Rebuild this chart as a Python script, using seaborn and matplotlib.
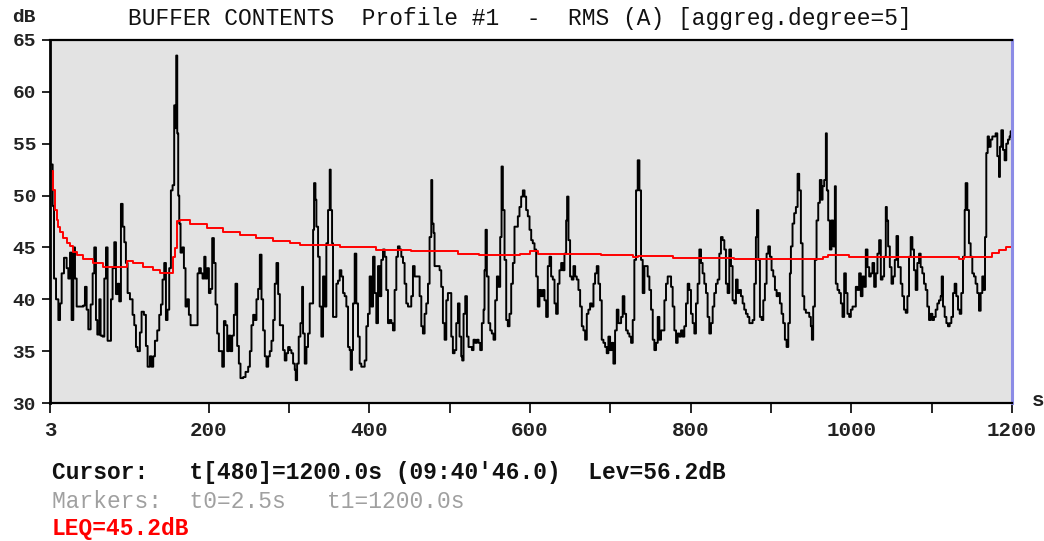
import numpy as np
import pandas as pd
import matplotlib
matplotlib.use('Agg')
import matplotlib.pyplot as plt
import seaborn as sns

# RMS level (time in s, level in dB)
t_rms = [2.5, 5.8, 7.5, 10, 12.9, 15, 17, 19.9, 23.2, 25.3, 27.4, 29.4, 31.5, 33.6, 35.7, 39.8, 44, 46, 48.1, 50.2,
         53.1, 55.6, 57.6, 59.7, 61.4, 63.9, 65.5, 68, 70.1, 72.2, 74.2, 76.3, 78.4, 80.4, 82.5, 84.6, 86.7, 88.7, 90.8, 92.9,
         95, 97, 99.1, 102, 105.3, 107.4, 109.5, 111.5, 114.4, 116.5, 119.4, 121.9, 124, 126.9, 128.9, 131, 133.1, 136, 138.5, 140.6,
         142.6, 144.7, 146.8, 148.8, 150.9, 153, 155.1, 157.1, 158.4, 159.6, 160.9, 162.1, 163.4, 165, 167.1, 169.2, 171.2, 173.3, 175.4, 177.5,
         180.8, 185, 186.2, 188.2, 190.3, 192.4, 194.5, 196.1, 198.2, 200.3, 202.3, 204.4, 206.5, 208.6, 210.6, 212.7, 214.8, 216.9, 219, 221,
         223.1, 225.1, 227.2, 229.3, 231.4, 233.4, 235.5, 237.6, 239.6, 243, 245.9, 249.2, 251.3, 253.3, 255.4, 257.5, 259.5, 261.6, 263.7, 265.8,
         267.8, 269.9, 272, 274.1, 276.1, 278.2, 280.3, 282.3, 284.4, 286.5, 288.6,
         292.6, 294.7, 296.8, 298.9, 301, 303, 305.1, 307.2, 308.4, 310.1, 312.1, 314.2, 316.3, 317.5, 319.6, 321.7, 323.7, 325.8, 327.9, 330,
         331.2, 332.9, 334.1, 336.2, 338.2, 340.3, 342.4, 344.5, 346.5, 348.6, 350.7, 351.9, 353.6, 354.8, 356.9, 359, 361, 363.1, 365.2, 367.3,
         369.3, 371.4, 373.5, 375.5, 376.8, 378.4, 379.7, 381.8, 383.8, 385.9, 388, 390, 392.1, 394.2, 396.3, 398.3, 400.4, 402.5, 404.6, 406.6,
         408.7, 410.8, 412.9, 414.9, 417, 419.1, 421.1, 423.2, 425.3, 427.4, 429.4, 431.5, 433.6, 435.6, 437.7, 439.8, 441.9, 443.9, 446, 448.1,
         450.2, 452.2, 454.3, 456.4, 458.4, 460.5, 462.6, 464.7, 466.7, 468.8, 470.9, 473, 475, 477.1, 478.3, 480, 481.2, 483.3, 485.4, 487.5,
         489.5, 491.6, 493.7, 495.8, 497.8,
         499.9, 502, 504, 506.1, 508.2, 510.3, 512.3, 514.4, 515.6, 517.3, 519.4, 521.5, 523.5, 525.6, 527.7, 529.7, 531.8, 533.9, 536, 538,
         540.1, 542.2, 543.4, 544.7, 546.3, 548.4, 550.5, 552.5, 554.6, 556.7, 558.8, 560.8, 562.9, 564.6, 566.2, 568.3, 570.4, 572.4, 574.5, 576.6,
         578.7, 580.7, 582.8, 584.9, 586.9, 589, 591.1, 593.2, 595.2, 597.3, 599.4, 601.5, 603.5, 605.6, 607.7, 609.7, 611.8, 613.9, 616, 618,
         620.1, 622.2, 624.3, 626.3, 628.4, 630.5, 632.5, 634.6, 636.7, 638.8, 640.8, 642.9, 645, 646.2, 647.9, 649.9, 652, 654.1, 656.2, 658.2,
         660.3, 662.4, 664.5, 666.5, 668.6, 670.7, 672.7, 674.8, 676.9, 679, 681, 683.1, 685.2, 687.2, 689.3, 691.4, 693.5, 695.5, 697.6, 699.7,
         701.8, 703.8, 705.9, 708, 710.1,
         711.3, 713.4, 715.4, 717.5, 719.6, 721.7, 723.7, 725.8, 727.9, 729.9, 732, 734.1, 736.2, 738.2, 740.3, 742.4, 744.5, 746.5, 748.6, 750.7,
         752.8, 754.8, 756.9, 759, 761, 763.1, 765.2, 767.3, 769.3, 771.4, 773.5, 775.6, 777.6, 779.7, 781.8, 783.8, 785.9, 788, 790.1, 792.1,
         794.2, 796.3, 798.3, 800.4, 802.5, 804.6, 806.6, 808.7, 810.8, 812.9, 814.9, 817, 819.1, 821.1, 823.2, 825.3, 827.4, 829.4, 831.5, 833.6,
         835.7, 837.7, 839.8, 841.9, 843.9, 846, 848.1, 850.2, 852.2, 854.3, 856.4, 858.5, 860.5, 862.6, 864.7, 866.7, 868.8, 870.9, 873, 875,
         877.1, 879.2, 881.2, 882.5, 884.2, 886.2, 888.3, 890.4, 892.4, 894.5, 896.6, 898.7, 900.7, 902.8, 904.9, 907, 909, 911.1, 913.2, 915.2,
         917.3, 919.4, 921.5,
         923.5, 924.8, 926.8, 928.9, 931, 933.1, 935.1, 937.2, 939.3, 941.4, 943.4, 945.5, 947.6, 949.6, 950.9, 952.5, 954.6, 956.7, 958.8, 960.8,
         962.9, 964.2, 966.2, 968.3, 969.5, 971.2, 973.3, 975.3, 977.4, 979.5, 980.7, 982.8, 984.9, 987, 989, 991.1, 993.2, 995.2, 997.3, 999.4,
         1001.5, 1003.5, 1005.6, 1007.7, 1009.7, 1011.8, 1013.9, 1016, 1018, 1020.1, 1022.2, 1024.3, 1026.3, 1028.4, 1030.5, 1032.5, 1034.6, 1036.7, 1038.8, 1040.8,
         1042.9, 1044.2, 1045.8, 1047.9, 1050, 1052, 1054.1, 1056.2, 1058.2,
         1061.5, 1063.5, 1065.6, 1067.7, 1069.8, 1071.8, 1073.9, 1076, 1078, 1080.1, 1082.2, 1084.3, 1086.3, 1088.4, 1090.5, 1092.6, 1094.6, 1096.7, 1098.8, 1100.9,
         1102.9, 1105, 1107.1, 1109.1, 1111.2, 1112.5, 1114.1, 1116.2, 1118.3, 1120.3, 1122.4, 1124.5, 1126.6, 1128.6, 1130.7, 1132.8, 1134.9, 1136.9, 1139, 1141.1,
         1142.3, 1144.4, 1146.4, 1148.5, 1150.6, 1152.7, 1154.7, 1156.8, 1158.9, 1161, 1163, 1165.1, 1166.4, 1168, 1169.7, 1171.3, 1173.4, 1175.5, 1177.5, 1179.6,
         1181.7, 1183.8, 1185, 1186.7, 1188.8, 1190.8, 1192.9, 1195, 1197, 1198.3, 1200]

lev_rms = [53, 49, 42, 40, 38, 39.6, 42.5, 44, 43, 42, 44.5, 38, 45, 42, 39.3, 39.3, 39.4, 41.2, 39, 37.1,
           39.5, 42.5, 45, 38, 36.6, 40, 36.5, 36.4, 42, 45, 36, 36, 40, 43, 45.5, 40.5, 41.5, 39.8, 49.2, 47,
           45.5, 43.5, 40.6, 40, 38.5, 37.5, 35.4, 35, 36.8, 38.8, 38.5, 35.5, 33.5, 34.5, 33.5, 34.5, 36, 37, 38.5, 39.5,
           41.9, 43.5, 38, 39, 43, 50.5, 51, 58.7, 56.5, 63.5, 56, 50, 47.3, 44.5, 45, 43, 39.3, 40, 38.5, 37.5,
           37.5, 37.5, 42.5, 43, 42.5, 42, 44.1, 42, 43, 40.6, 41, 45.9, 43.5, 39.5, 36.7, 35, 35, 33.5, 37.9, 37.5,
           35, 36.5, 35, 36.5, 38.5, 41.5, 35.5, 33.8, 32.4, 32.5, 33, 33.5, 35, 37.5, 38.5, 38, 40, 41, 44.3, 40,
           37, 34.5, 33.5, 34.5, 35, 36, 38, 41.5, 43.5, 40.5, 37.5,
           35.1, 34.1, 34.8, 35.4, 35.1, 34.8, 33.8, 33.2, 32.2, 33.8, 36.4, 37.7, 41.2, 36.7, 33.8, 35.4, 36.7, 39.6, 39.6, 46.7,
           51.2, 49.6, 47, 44.1, 39.3, 36.4, 42.2, 39.3, 45.4, 48.6, 52.5, 48.6, 45.4, 38.3, 38.3, 41.5, 41.8, 42.8, 42.2, 40.6,
           40.3, 39.3, 35.4, 35.1, 33.2, 35.1, 39.6, 44.4, 39.6, 36.4, 33.8, 33.5, 33.5, 34.1, 37.4, 38.6, 42.2, 39.3, 44.1, 40.6,
           37.7, 43.2, 40.3, 43.8, 44.8, 44.1, 40.9, 37.7, 38, 37.7, 37, 40.9, 44.1, 45.1, 44.8, 44.1, 43.5, 41.5, 39.6, 39.3,
           39.3, 40.3, 43.2, 42.2, 42.2, 42.2, 40.3, 37.4, 36.7, 38.6, 39.6, 41.5, 46, 51.5, 47.3, 46.4, 43.2, 43.2, 43.2, 42.8,
           41.2, 37.7, 36.1, 39.9, 40.6,
           40.6, 36.4, 34.8, 35.1, 37.7, 39.6, 36.4, 34.5, 34.1, 38.6, 40.3, 36.4, 35.4, 35.4, 35.1, 36.1, 35.8, 36.1, 35.8, 35.1,
           37.7, 39, 42.8, 46.7, 42.2, 37.7, 37, 36.7, 36.1, 39.9, 42.2, 41.2, 46, 52.8, 48.6, 43.8, 38, 37.4, 38.6, 41.5,
           43.5, 47, 47, 48, 48.9, 49.9, 50.5, 49.9, 48.6, 48, 46.7, 45.7, 45.4, 44.8, 42.2, 39.3, 40.9, 40.3, 40.9, 39.9,
           38.3, 43.2, 44.1, 42.2, 41.9, 39.6, 38.6, 41.5, 42.8, 43.5, 42.8, 44.4, 47.6, 49.9, 45.7, 42.2, 41.9, 43.2, 42.2, 41.9,
           40.9, 39.3, 37.4, 37, 36.1, 38.6, 39, 39.6, 39.3, 41.5, 42.5, 43.2, 41.5, 39.9, 36.1, 35.8, 35.4, 34.8, 36.4, 35.1,
           35.8, 33.8, 37, 39, 37.7,
           37.7, 38.3, 40.3, 38.6, 37, 36.7, 36.4, 35.8, 38, 43.8, 50.5, 53.4, 50.5, 43.8, 40.6, 43.2, 43.2, 42.2, 40.9, 39,
           36.1, 35.1, 35.8, 38.3, 36.1, 37, 37, 39.9, 41.5, 42.2, 42.2, 41.2, 39.3, 37, 35.8, 36.7, 36.4, 37, 36.4, 37.4,
           39.6, 41.5, 40.9, 38.6, 37.7, 36.7, 39.6, 41.5, 44.8, 43.5, 42.5, 41.5, 40.6, 38.3, 36.7, 37.7, 39.3, 40.6, 41.5, 41.9,
           44.4, 46, 45.7, 44.8, 41.5, 40.6, 44.8, 43.2, 39.9, 39.6, 41.9, 40.6, 40.9, 40.3, 39.6, 39, 38.6, 38.3, 37.7, 37.7,
           38, 41.5, 46, 48.6, 43.8, 38.3, 38, 39.9, 41.5, 44.4, 45.1, 44.1, 42.8, 42.2, 40.9, 40.3, 40.6, 39.6, 38.6, 37.7,
           36.1, 35.4, 37.7,
           42.5, 45.1, 47.3, 48.3, 48.9, 52.1, 50.5, 45.4, 40.3, 39, 38.7, 38.7, 38.3, 37.4, 36.1, 39.3, 43.8, 47.6, 49.3, 51.5,
           49.6, 50.9, 51.5, 56, 50.5, 47.6, 44.8, 47.6, 45.1, 50.9, 41.5, 40.9, 40.6, 39.6, 38.3, 42.5, 40.6, 38.6, 38.3, 39,
           39.3, 39.3, 41.2, 40.9, 42.5, 40.3, 42.2, 41.2, 44.8, 43.1, 42.2, 42.5, 43.5, 41.2, 42.5, 44.4, 45.7, 41.9, 42.2, 44.1,
           48.9, 47.6, 45.1, 43.1, 41.5, 42.2, 43.8, 46.1, 43.1,
           41.5, 40.3, 39, 38.7, 40.3, 44.1, 46, 44.8, 42.8, 40.9, 43.5, 44.4, 43.1, 42.5, 41.5, 40.9, 39.3, 38, 38.6, 38,
           38.3, 39, 39.6, 39.9, 40.3, 42.2, 39.3, 38.3, 37.7, 37.4, 37.7, 38.3, 40.6, 41.5, 40.3, 39, 38.6, 40.6, 44.1, 48.6,
           51.2, 48.6, 45.4, 44.1, 42.5, 42.2, 41.5, 40.6, 38.9, 40.6, 42.2, 40.9, 46, 54.1, 55.7, 54.7, 55.4, 55.7, 55.7, 56,
           53.8, 51.8, 54.7, 56.3, 54.4, 53.4, 55, 55.4, 55.7, 56.2, 56.2]

# running LEQ (red trace)
t_leq = [2.5, 6.6, 8.7, 10.8, 12.9, 15, 19.1, 23.2, 27.4, 31.5, 35.7, 44, 56.4, 68.8, 97.9, 106.2, 118.6, 131, 139.3, 155.9,
         158, 160, 164.2, 176.6, 197.4, 218.1, 238.8, 259.5, 280.3, 301, 313.4, 363, 408.7, 452.2, 510, 537, 587, 599.4, 609.7, 688.5,
         727.9, 734, 777.6, 854.3, 964.2, 970.4, 997.3, 1132, 1134, 1140, 1167, 1175.5, 1183.8, 1192, 1200]
lev_leq = [52.4, 50.5, 48.6, 47.6, 47, 46.5, 45.9, 45.4, 45.1, 44.6, 44.3, 43.9, 43.5, 43.1, 43.7, 43.5, 43.1, 42.8, 42.5, 44.1,
           44.9, 47.5, 47.6, 47.3, 46.9, 46.5, 46.2, 45.9, 45.6, 45.4, 45.2, 45, 44.8, 44.7, 44.4, 44.3, 44.4, 44.7, 44.4, 44.3,
           44.05, 44.2, 44, 43.9, 44.1, 44.3, 44.1, 44.1, 43.85, 44.1, 44.1, 44.5, 44.75, 45, 45.2]

x_ticks = [2.5, 200, 300, 400, 500, 600, 700, 800, 900, 1000, 1100, 1200]
x_labels = ['3', '200', '', '400', '', '600', '', '800', '', '1000', '', '1200']
y_ticks = [30, 35, 40, 45, 50, 55, 60, 65]

title = "BUFFER CONTENTS  Profile #1  -  RMS (A) [aggreg.degree=5]"
cursor_txt = "Cursor:   t[480]=1200.0s (09:40'46.0)  Lev=56.2dB"
markers_txt = "Markers:  t0=2.5s   t1=1200.0s"
leq_txt = "LEQ=45.2dB"

rms = pd.DataFrame({'t': t_rms, 'lev': lev_rms})
leq = pd.DataFrame({'t': t_leq, 'lev': lev_leq})

W, H = 1044, 541
mono = 'Liberation Mono'
fig = plt.figure(figsize=(W / 100, H / 100), dpi=100)
ax = fig.add_axes([50 / W, 1 - 403 / H, (1012 - 50) / W, (403 - 40) / H])
ax.set_facecolor('#e3e3e3')

sns.lineplot(data=rms, x='t', y='lev', ax=ax, color='black', lw=1.4,
             drawstyle='steps-post', estimator=None, sort=False)
sns.lineplot(data=leq, x='t', y='lev', ax=ax, color='#ff0000', lw=1.4,
             drawstyle='steps-post', estimator=None, sort=False)

ax.set_xlim(2.5, 1200)
ax.set_ylim(30, 65)
ax.set_xlabel('')
ax.set_ylabel('')
ax.set_xticks(x_ticks)
ax.set_xticklabels(x_labels, family=mono, fontsize=15, weight='bold', color='#222222')
ax.set_yticks(y_ticks)
ax.set_yticklabels([str(v) for v in y_ticks], family=mono, fontsize=14, weight='bold', color='#222222')
ax.tick_params(axis='x', length=7, width=1.2, pad=6)
ax.tick_params(axis='y', length=6, width=1.2, pad=4)

for side in ['left', 'bottom', 'top']:
    ax.spines[side].set_color('black')
ax.spines['left'].set_linewidth(2)
ax.spines['bottom'].set_linewidth(1.6)
ax.spines['top'].set_linewidth(1.6)
ax.spines['right'].set_color('#8c8ce6')
ax.spines['right'].set_linewidth(2.2)

fig.text(520 / W, 1 - 18 / H, title, family=mono, fontsize=16.5, ha='center', va='center', color='#111111')
fig.text(12 / W, 1 - 18 / H, 'dB', family=mono, fontsize=14, weight='bold', ha='left', va='center', color='#222222')
fig.text(1032 / W, 1 - 401 / H, 's', family=mono, fontsize=15, weight='bold', ha='left', va='center', color='#222222')
fig.text(52 / W, 1 - 473 / H, cursor_txt, family=mono, fontsize=16.5, weight='bold', ha='left', va='center', color='#111111')
fig.text(52 / W, 1 - 501 / H, markers_txt, family=mono, fontsize=16.5, ha='left', va='center', color='#a0a0a0')
fig.text(52 / W, 1 - 529 / H, leq_txt, family=mono, fontsize=16.5, weight='bold', ha='left', va='center', color='#ff0000')

fig.savefig('out.png', dpi=100)
